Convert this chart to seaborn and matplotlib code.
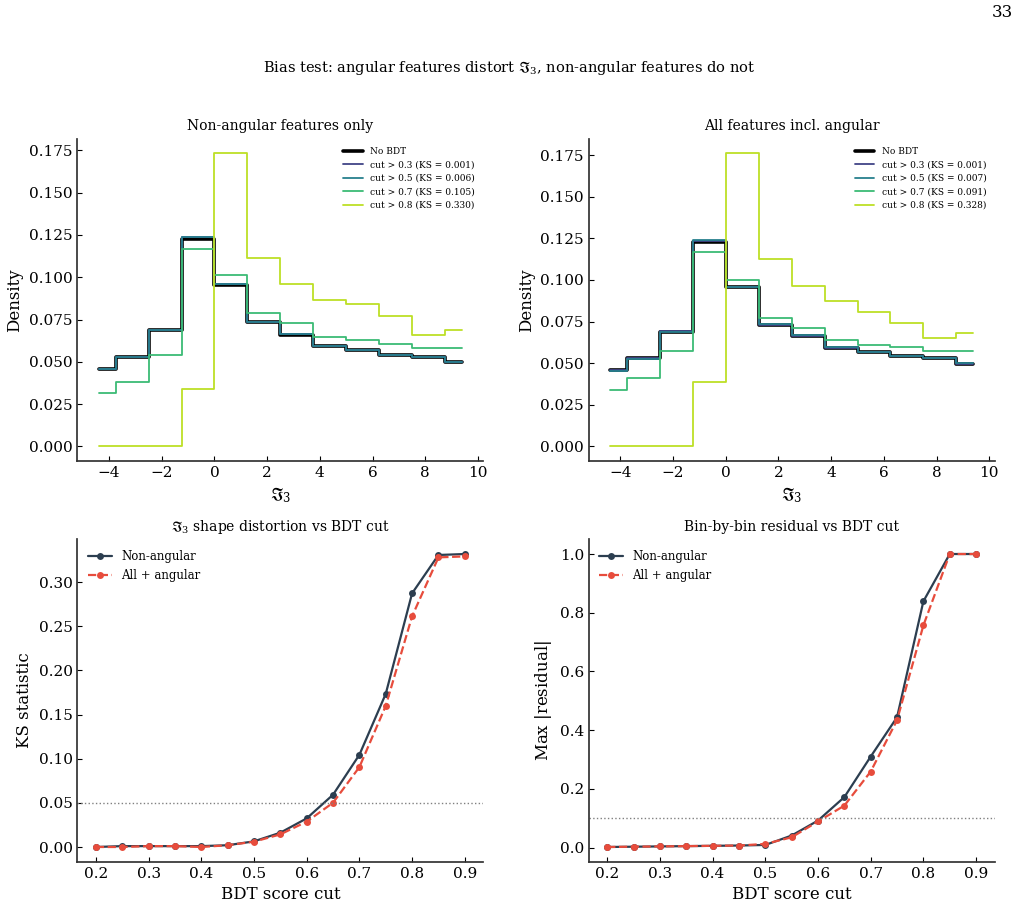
import numpy as np
import pandas as pd
import matplotlib
matplotlib.use('Agg')
import matplotlib.pyplot as plt
import seaborn as sns

# Histogram bin centres (bins of 1.25 from -5 to 10)
bin_centers = [-4.375, -3.125, -1.875, -0.625, 0.625, 1.875, 3.125, 4.375, 5.625, 6.875, 8.125, 9.375]

# Left panel: non-angular features only
nonang_nobdt = [0.0458, 0.0527, 0.0689, 0.1226, 0.0957, 0.0734, 0.0661, 0.0594, 0.0568, 0.0541, 0.0529, 0.0497]
nonang_c03 = [0.0460, 0.0528, 0.0690, 0.1238, 0.0960, 0.0733, 0.0662, 0.0595, 0.0567, 0.0541, 0.0530, 0.0498]
nonang_c05 = [0.0455, 0.0526, 0.0688, 0.1240, 0.0962, 0.0735, 0.0664, 0.0596, 0.0569, 0.0543, 0.0530, 0.0498]
nonang_c07 = [0.0314, 0.0381, 0.0543, 0.1166, 0.1012, 0.0787, 0.0728, 0.0647, 0.0629, 0.0608, 0.0582, 0.0584]
nonang_c08 = [0.0, 0.0, 0.0, 0.0341, 0.1732, 0.1115, 0.0963, 0.0868, 0.0840, 0.0771, 0.0661, 0.0691]

# Right panel: all features incl. angular
allang_nobdt = [0.0459, 0.0529, 0.0690, 0.1226, 0.0956, 0.0730, 0.0666, 0.0593, 0.0567, 0.0541, 0.0529, 0.0497]
allang_c03 = [0.0461, 0.0530, 0.0691, 0.1236, 0.0958, 0.0731, 0.0666, 0.0594, 0.0568, 0.0542, 0.0530, 0.0498]
allang_c05 = [0.0455, 0.0528, 0.0689, 0.1238, 0.0960, 0.0733, 0.0668, 0.0596, 0.0569, 0.0543, 0.0531, 0.0499]
allang_c07 = [0.0337, 0.0413, 0.0575, 0.1167, 0.1000, 0.0770, 0.0714, 0.0638, 0.0612, 0.0600, 0.0575, 0.0575]
allang_c08 = [0.0, 0.0, 0.0, 0.0389, 0.1760, 0.1123, 0.0962, 0.0872, 0.0810, 0.0742, 0.0654, 0.0680]

hist_labels_left = ['No BDT', 'cut > 0.3 (KS = 0.001)', 'cut > 0.5 (KS = 0.006)',
                    'cut > 0.7 (KS = 0.105)', 'cut > 0.8 (KS = 0.330)']
hist_labels_right = ['No BDT', 'cut > 0.3 (KS = 0.001)', 'cut > 0.5 (KS = 0.007)',
                     'cut > 0.7 (KS = 0.091)', 'cut > 0.8 (KS = 0.328)']

# Scan over BDT score cut
bdt_cuts = [0.2, 0.25, 0.3, 0.35, 0.4, 0.45, 0.5, 0.55, 0.6, 0.65, 0.7, 0.75, 0.8, 0.85, 0.9]
ks_nonang = [0.000, 0.001, 0.001, 0.001, 0.001, 0.002, 0.0064, 0.0162, 0.0324, 0.0592, 0.1044, 0.1734, 0.2872, 0.3306, 0.3317]
ks_allang = [0.000, 0.000, 0.001, 0.001, 0.000, 0.002, 0.006, 0.0143, 0.0287, 0.0501, 0.0905, 0.1598, 0.2612, 0.3279, 0.3290]
res_nonang = [0.002, 0.003, 0.004, 0.005, 0.006, 0.007, 0.009, 0.041, 0.092, 0.172, 0.310, 0.444, 0.839, 1.0, 1.0]
res_allang = [0.002, 0.003, 0.004, 0.005, 0.006, 0.007, 0.0125, 0.035, 0.089, 0.143, 0.259, 0.434, 0.757, 1.0, 1.0]

sns.set_theme(style='ticks')
plt.rcParams['font.family'] = ['DejaVu Serif']
plt.rcParams['mathtext.fontset'] = 'dejavuserif'
for key in ['text.color', 'axes.labelcolor', 'xtick.color', 'ytick.color']:
    plt.rcParams[key] = 'black'
plt.rcParams['axes.edgecolor'] = '#333333'

cut_colors = [plt.cm.viridis(v) for v in (0.2, 0.43, 0.68, 0.9)]

fig, axes = plt.subplots(2, 2, figsize=(10.19, 9.07), dpi=100)
fig.subplots_adjust(left=0.076, right=0.976, bottom=0.05, top=0.847, wspace=0.26, hspace=0.243)


def draw_hist(ax, series, labels, title):
    widths = [2.6, 1.3, 1.3, 1.3, 1.3]
    colors = ['black'] + cut_colors
    for vals, lab, c, w in zip(series, labels, colors, widths):
        df = pd.DataFrame({'x': bin_centers, 'y': vals})
        sns.lineplot(data=df, x='x', y='y', ax=ax, color=c, linewidth=w,
                     label=lab, drawstyle='steps-mid')
    ax.set_title(title, fontsize=10)
    ax.set_xlabel(r'$\mathfrak{I}_3$', fontsize=12)
    ax.set_ylabel('Density', fontsize=12)
    ax.set_xlim(-5.2, 10.2)
    ax.set_xticks([-4, -2, 0, 2, 4, 6, 8, 10])
    ax.set_yticks(np.arange(0, 0.176, 0.025))
    ax.legend(loc='upper right', frameon=False, fontsize=6.5, handlelength=2.2,
              bbox_to_anchor=(1.0, 1.0))


draw_hist(axes[0, 0], [nonang_nobdt, nonang_c03, nonang_c05, nonang_c07, nonang_c08],
          hist_labels_left, 'Non-angular features only')
draw_hist(axes[0, 1], [allang_nobdt, allang_c03, allang_c05, allang_c07, allang_c08],
          hist_labels_right, 'All features incl. angular')


def draw_scan(ax, y_non, y_all, thr, title, ylabel):
    df_non = pd.DataFrame({'cut': bdt_cuts, 'val': y_non})
    df_all = pd.DataFrame({'cut': bdt_cuts, 'val': y_all})
    sns.lineplot(data=df_non, x='cut', y='val', ax=ax, color='#2c3e50', linewidth=1.6,
                 marker='o', markersize=5, markeredgewidth=0, label='Non-angular')
    sns.lineplot(data=df_all, x='cut', y='val', ax=ax, color='#e74c3c', linewidth=1.6,
                 linestyle='--', marker='o', markersize=5, markeredgewidth=0,
                 label='All + angular')
    ax.axhline(thr, color='gray', linestyle=':', linewidth=1)
    ax.set_title(title, fontsize=10)
    ax.set_xlabel('BDT score cut', fontsize=12)
    ax.set_ylabel(ylabel, fontsize=12)
    ax.set_xticks(np.arange(0.2, 0.91, 0.1))
    ax.legend(loc='upper left', frameon=False, fontsize=8.5)


draw_scan(axes[1, 0], ks_nonang, ks_allang, 0.05,
          r'$\mathfrak{I}_3$ shape distortion vs BDT cut', 'KS statistic')
draw_scan(axes[1, 1], res_nonang, res_allang, 0.1,
          'Bin-by-bin residual vs BDT cut', r'Max $|\mathrm{residual}|$')
axes[1, 1].set_yticks([0.0, 0.2, 0.4, 0.6, 0.8, 1.0])

for ax in axes.flat:
    sns.despine(ax=ax)
    ax.tick_params(direction='in', length=3.5, width=0.8, labelsize=11)

fig.text(0.5, 0.925, r'Bias test: angular features distort $\mathfrak{I}_3$, non-angular features do not',
         ha='center', va='center', fontsize=10.5)
fig.text(0.994, 0.996, '33', ha='right', va='top', fontsize=12)

fig.savefig('out.png', dpi=100)
